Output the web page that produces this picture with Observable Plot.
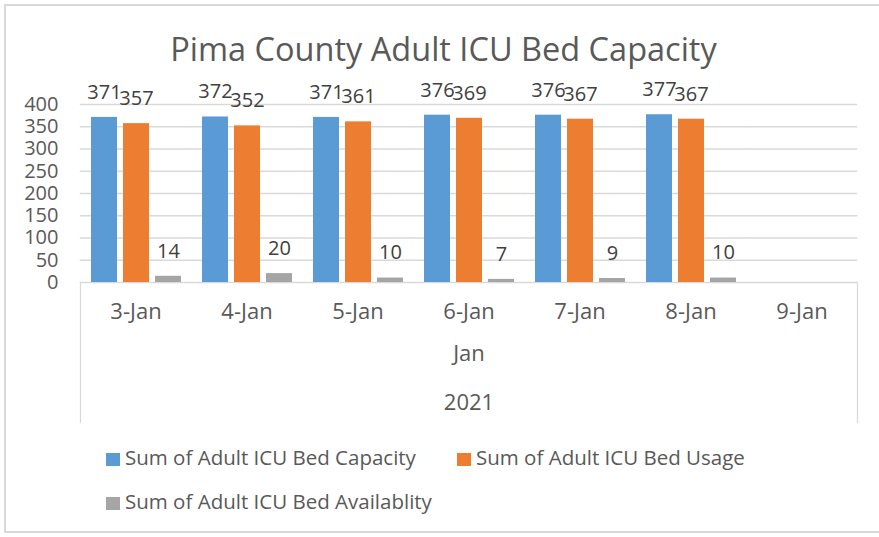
<!DOCTYPE html>
<html>
<head>
<meta charset="utf-8">
<script src="https://cdn.jsdelivr.net/npm/d3@7"></script>
<script src="https://cdn.jsdelivr.net/npm/@observablehq/plot@0.6"></script>
<style>
  html, body { margin: 0; padding: 0; background: #fff; }
  #chart { position: relative; width: 879px; height: 537px; overflow: hidden; font-family: "Open Sans", sans-serif; }
  #border { position: absolute; left: 4px; top: 4px; width: 880px; height: 529px; border: 2px solid #d9d9d9; box-sizing: border-box; }
  #title { position: absolute; left: 4px; width: 879px; top: 25px; text-align: center; font-size: 32.5px; color: #595959; line-height: 48px; }
  #plot { position: absolute; left: 0; top: 75px; }
  #legend { position: absolute; left: 106px; top: 441px; width: 740px; font-size: 20.5px; color: #595959; }
  .item { position: absolute; white-space: nowrap; line-height: 32px; }
  .sw { display: inline-block; width: 14px; height: 13px; margin-right: 5px; vertical-align: -1px; }
</style>
</head>
<body>
<div id="chart">
  <div id="border"></div>
  <div id="title"></div>
  <div id="plot"></div>
  <div id="legend"></div>
</div>
<script>
const title = "Pima County Adult ICU Bed Capacity";
const categories = ["3-Jan", "4-Jan", "5-Jan", "6-Jan", "7-Jan", "8-Jan", "9-Jan"];
const monthLabel = "Jan";
const yearLabel = "2021";
const seriesNames = ["Sum of Adult ICU Bed Capacity", "Sum of Adult ICU Bed Usage", "Sum of Adult ICU Bed Availablity"];
const capacity = [371, 372, 371, 376, 376, 377, null];
const usage = [357, 352, 361, 369, 367, 367, null];
const availability = [14, 20, 10, 7, 9, 10, null];
const colors = ["#5B9BD5", "#ED7D31", "#A5A5A5"];
const yTicks = [0, 50, 100, 150, 200, 250, 300, 350, 400];

const seriesValues = [capacity, usage, availability];
const data = [];
categories.forEach((c, i) => {
  seriesNames.forEach((s, j) => data.push({date: c, series: s, value: seriesValues[j][i]}));
});
const labelled = data.filter(d => d.value != null);

document.getElementById("title").textContent = title;

const H = 355, MT = 29, MB = 148;
const frameH = H - MT - MB;

const chart = Plot.plot({
  width: 879,
  height: H,
  marginLeft: 80,
  marginRight: 22,
  marginTop: MT,
  marginBottom: MB,
  style: {fontFamily: "Open Sans, sans-serif", background: "transparent", overflow: "visible"},
  fx: {domain: categories, paddingInner: 0.18, paddingOuter: 0.09, label: null},
  x: {domain: seriesNames, paddingInner: 0.2, paddingOuter: 0, axis: null},
  y: {domain: [0, 400], ticks: yTicks, label: null},
  color: {domain: seriesNames, range: colors},
  marks: [
    Plot.ruleY(yTicks, {insetLeft: -10.2, insetRight: -10.2, stroke: "#d9d9d9", strokeWidth: 1.3, strokeOpacity: 1}),
    Plot.frame({facet: "super", anchor: "left", insetLeft: -10, insetTop: frameH, insetBottom: -140, stroke: "#d9d9d9", strokeWidth: 1.3, strokeOpacity: 1}),
    Plot.frame({facet: "super", anchor: "right", insetRight: -10, insetTop: frameH, insetBottom: -140, stroke: "#d9d9d9", strokeWidth: 1.3, strokeOpacity: 1}),
    Plot.barY(data, {fx: "date", x: "series", y: "value", fill: "series"}),
    Plot.text(labelled, {fx: "date", x: "series", y: "value", text: d => String(d.value), dy: -25, fontSize: 20, fill: "#404040"}),
    Plot.axisY(yTicks, {anchor: "left", tickSize: 0, tickPadding: 32, fontSize: 20, color: "#595959", label: null}),
    Plot.axisFx({anchor: "bottom", tickSize: 0, tickPadding: 21, fontSize: 22, color: "#595959", label: null}),
    Plot.text([monthLabel], {facet: "super", frameAnchor: "bottom", text: d => d, dy: 78, fontSize: 22, fill: "#595959"}),
    Plot.text([yearLabel], {facet: "super", frameAnchor: "bottom", text: d => d, dy: 127, fontSize: 22, fill: "#595959"})
  ]
});
document.getElementById("plot").appendChild(chart);

const legend = document.getElementById("legend");
const positions = [[0, 0], [351, 0], [0, 44]];
seriesNames.forEach((s, i) => {
  const item = document.createElement("div");
  item.className = "item";
  item.style.left = positions[i][0] + "px";
  item.style.top = positions[i][1] + "px";
  const sw = document.createElement("span");
  sw.className = "sw";
  sw.style.background = colors[i];
  item.appendChild(sw);
  item.appendChild(document.createTextNode(s));
  legend.appendChild(item);
});
</script>
</body>
</html>
